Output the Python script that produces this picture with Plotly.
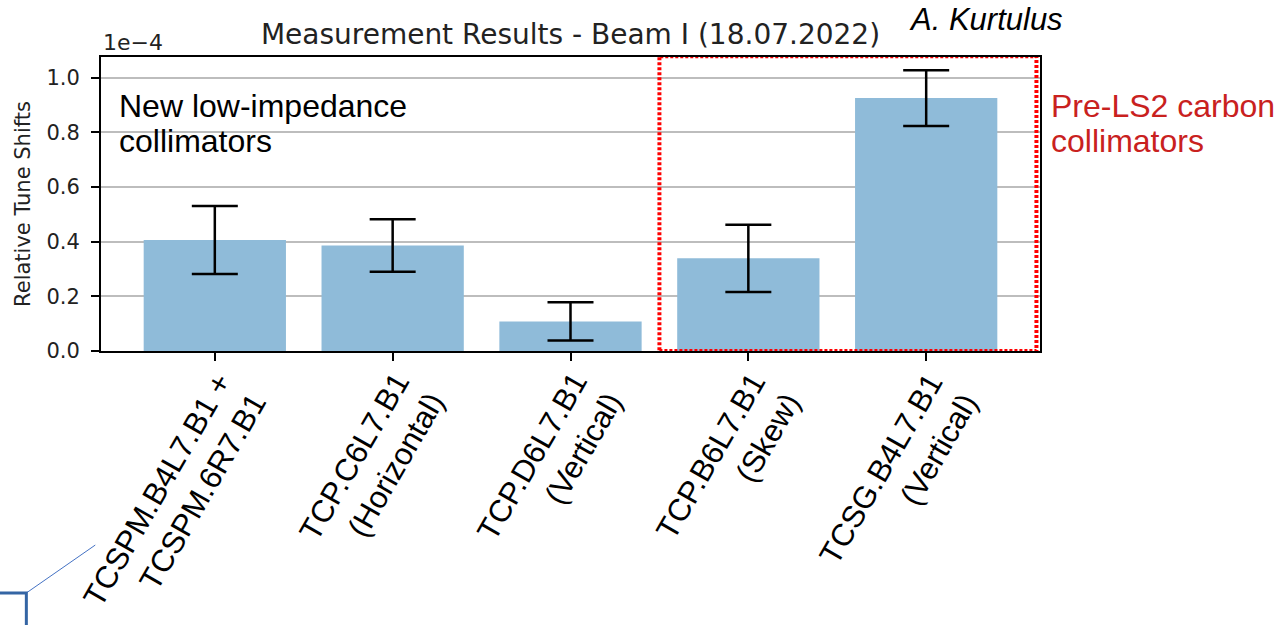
import plotly.graph_objects as go

# ---- data (values in units of 1e-4) ----
categories = [
    "TCSPM.B4L7.B1 +<br>TCSPM.6R7.B1",
    "TCP.C6L7.B1<br>(Horizontal)",
    "TCP.D6L7.B1<br>(Vertical)",
    "TCP.B6L7.B1<br>(Skew)",
    "TCSG.B4L7.B1<br>(Vertical)",
]
tune_shift = [0.406, 0.386, 0.108, 0.339, 0.925]
tune_err = [0.124, 0.096, 0.070, 0.123, 0.102]
y_ticks = [0.0, 0.2, 0.4, 0.6, 0.8, 1.0]
scale_label = "1e\u22124"

x_pos = list(range(len(categories)))

BAR_COLOR = "#8fbbd9"
DEJAVU = "DejaVu Sans"
LIB = "Liberation Sans, Arial"

fig = go.Figure()
fig.add_trace(go.Bar(
    x=x_pos, y=tune_shift, width=0.8,
    marker=dict(color=BAR_COLOR, line=dict(width=0)),
    error_y=dict(type="data", array=tune_err, visible=True,
                 color="black", thickness=2.5, width=23),
    showlegend=False,
))

annotations = []
for i, lab in zip(x_pos, categories):
    annotations.append(dict(
        x=i, xref="x", y=0, yref="y", text=lab, showarrow=False,
        textangle=-60, xanchor="right", yanchor="top", align="right",
        xshift=61, yshift=-13, font=dict(family=LIB, size=31, color="black"),
    ))

annotations += [
    dict(x=0.0, y=1.048, xref="paper", yref="paper", text=scale_label,
         showarrow=False, xanchor="left", yanchor="middle",
         font=dict(family=DEJAVU, size=22, color="#222222")),
    dict(x=0.0175, y=0.832, xref="paper", yref="paper", text="New low-impedance",
         showarrow=False, xanchor="left", yanchor="middle",
         font=dict(family=LIB, size=32, color="black")),
    dict(x=0.0175, y=0.713, xref="paper", yref="paper", text="collimators",
         showarrow=False, xanchor="left", yanchor="middle",
         font=dict(family=LIB, size=32, color="black")),
    dict(x=1.0096, y=0.832, xref="paper", yref="paper", text="Pre-LS2 carbon",
         showarrow=False, xanchor="left", yanchor="middle",
         font=dict(family=LIB, size=32, color="#c9211e")),
    dict(x=1.0096, y=0.713, xref="paper", yref="paper", text="collimators",
         showarrow=False, xanchor="left", yanchor="middle",
         font=dict(family=LIB, size=32, color="#c9211e")),
    dict(x=0.858, y=1.128, xref="paper", yref="paper", text="<i>A. Kurtulus</i>",
         showarrow=False, xanchor="left", yanchor="middle",
         font=dict(family=LIB, size=31, color="black")),
]

shapes = [
    # red dotted box around Pre-LS2 collimators
    dict(type="rect", xref="x", yref="y", x0=2.5, x1=4.62, y0=0, y1=1.078,
         line=dict(color="#ff0000", width=4, dash="3px,2px"),
         fillcolor="rgba(0,0,0,0)", layer="above"),
    # slide decoration bottom-left
    dict(type="line", xref="paper", yref="paper", x0=-0.0061, y0=-0.660,
         x1=-0.0795, y1=-0.823, line=dict(color="#4472c4", width=1)),
    dict(type="rect", xref="paper", yref="paper", x0=-0.2, x1=-0.0795,
         y0=-0.823, y1=-1.2, line=dict(color="#3465a4", width=3),
         fillcolor="rgba(0,0,0,0)"),
]

fig.update_layout(
    width=1284, height=625,
    margin=dict(l=101, r=244, t=57, b=274),
    paper_bgcolor="white", plot_bgcolor="white",
    title=dict(text="Measurement Results - Beam I (18.07.2022)",
               x=0.5, xref="paper", xanchor="center",
               y=1 - 34 / 625, yref="container", yanchor="middle",
               font=dict(family=DEJAVU, size=28, color="#222222")),
    bargap=0.2,
    annotations=annotations,
    shapes=shapes,
)

fig.update_xaxes(
    range=[-0.64, 4.64], tickvals=x_pos, showticklabels=False,
    ticks="outside", ticklen=8, tickwidth=1.8, tickcolor="black",
    showline=True, linecolor="black", linewidth=1.8, mirror=True,
    showgrid=False, zeroline=False,
)
fig.update_yaxes(
    range=[0, 1.075], tickvals=y_ticks, tickformat=".1f",
    ticks="outside", ticklen=8, tickwidth=1.8, tickcolor="black",
    ticklabelstandoff=7,
    tickfont=dict(family=DEJAVU, size=21, color="#222222"),
    showline=True, linecolor="black", linewidth=1.8, mirror=True,
    showgrid=True, gridcolor="#bdbdbd", gridwidth=2, zeroline=False,
    title=dict(text="Relative Tune Shifts", standoff=10,
               font=dict(family=DEJAVU, size=21, color="#222222")),
)

fig.write_html("out.html")
